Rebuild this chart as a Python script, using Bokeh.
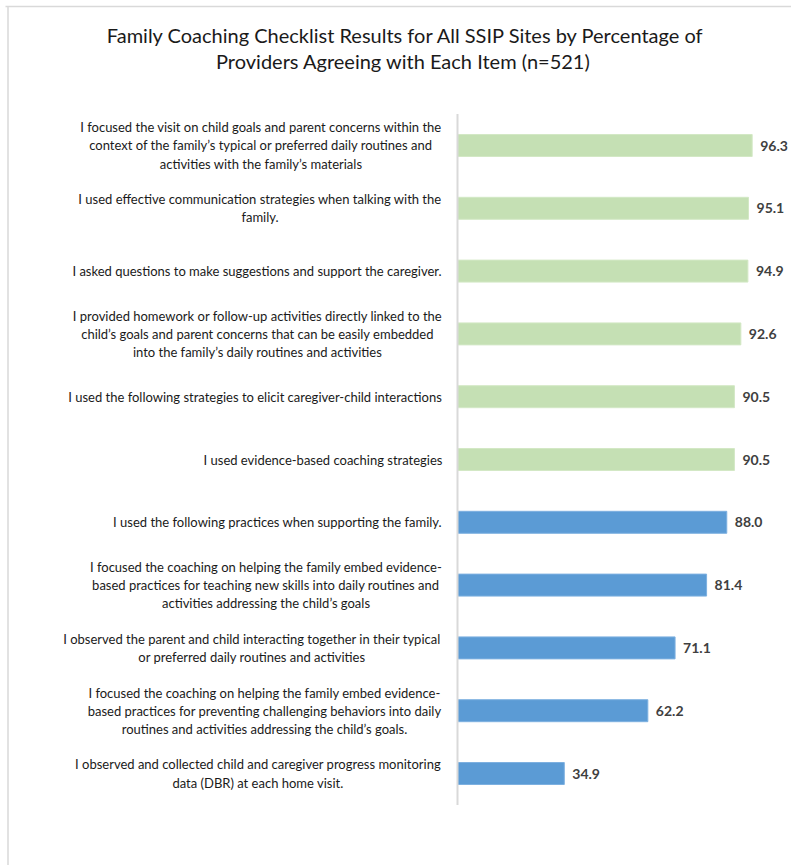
from bokeh.plotting import figure
from bokeh.models import Range1d
from bokeh.core.properties import value
from bokeh.embed import file_html
from bokeh.resources import INLINE

# ---- data (top to bottom) ----
items = [
    "I focused the visit on child goals and parent concerns within the\ncontext of the family\u2019s typical or preferred daily routines and\nactivities with the family\u2019s materials",
    "I used effective communication strategies when talking with the\nfamily.",
    "I asked questions to make suggestions and support the caregiver.",
    "I provided homework or follow-up activities directly linked to the\nchild\u2019s goals and parent concerns that can be easily embedded\ninto the family\u2019s daily routines and activities",
    "I used the following strategies to elicit caregiver-child interactions",
    "I used evidence-based coaching strategies",
    "I used the following practices when supporting the family.",
    "I focused the coaching on helping the family embed evidence-\nbased practices for teaching new skills into daily routines and\nactivities addressing the child\u2019s goals",
    "I observed the parent and child interacting together in their typical\nor preferred daily routines and activities",
    "I focused the coaching on helping the family embed evidence-\nbased practices for preventing challenging behaviors into daily\nroutines and activities addressing the child\u2019s goals.",
    "I observed and collected child and caregiver progress monitoring\ndata (DBR) at each home visit.",
]
percents = [96.3, 95.1, 94.9, 92.6, 90.5, 90.5, 88.0, 81.4, 71.1, 62.2, 34.9]
title_lines = [
    "Family Coaching Checklist Results for All SSIP Sites by Percentage of",
    "Providers Agreeing with  Each Item (n=521)",
]

# ---- layout (pixels) ----
W, H = 791, 865
X0_PX, PX_PER_UNIT = 457, 3.06
Y0_PX, ROW_PX = 145, 62.8
LABEL_RIGHT_PX = 442
# approximate width (px) of each wrapped label block, for centring its lines
label_block_w = [363, 365, 371, 370, 375, 239, 330, 353, 381, 356, 369]


def dx(px):
    return (px - X0_PX) / PX_PER_UNIT


def dy(py):
    return (py - Y0_PX) / ROW_PX


GREEN, BLUE = "#C5E0B4", "#5B9BD5"
GREEN_EDGE, BLUE_EDGE = "#d3e8c5", "#7db0e0"

idx = list(range(len(percents)))
fills = [GREEN if v >= 90 else BLUE for v in percents]
edges = [GREEN_EDGE if v >= 90 else BLUE_EDGE for v in percents]

p = figure(width=W, height=H, output_backend="svg", toolbar_location=None,
           x_range=Range1d(dx(0), dx(W)), y_range=Range1d(dy(H), dy(0)),
           x_axis_location=None, y_axis_location=None,
           min_border=0, min_border_left=0, min_border_right=0,
           min_border_top=0, min_border_bottom=0)
p.grid.visible = False
p.outline_line_color = None
p.background_fill_color = "white"

# outer chart border
p.segment(x0=[dx(5)], y0=[dy(6)], x1=[dx(W)], y1=[dy(6)], line_color="#d9d9d9", line_width=1.5)
p.segment(x0=[dx(7.5)], y0=[dy(6)], x1=[dx(7.5)], y1=[dy(H)], line_color="#d9d9d9", line_width=1.5)

# bars
p.hbar(y=idx, left=0, right=percents, height=0.35, fill_color=fills,
       line_color=edges, line_width=1)

# vertical category axis line
p.segment(x0=[0], y0=[-0.5], x1=[0], y1=[len(percents) - 0.5],
          line_color="#d9d9d9", line_width=2)

# value labels
p.text(x=percents, y=idx, text=["%.1f" % v for v in percents], x_offset=8,
       text_align="left", text_baseline="middle", text_font=value("Lato"),
       text_font_style="bold", text_font_size="14px", text_color="#404040")

# category labels (lines centred within a right-aligned block)
label_x = [dx(LABEL_RIGHT_PX - w / 2.0) for w in label_block_w]
p.text(x=label_x, y=idx, text=items, text_align="center",
       text_baseline="middle", text_font=value("Lato"), text_font_size="13px",
       text_line_height=1.13, text_color="#1a1a1a")

# title
p.text(x=[dx(405.5)] * 2, y=[dy(34), dy(60)], text=title_lines, text_align="center",
       text_baseline="middle", text_font=value("Lato"), text_font_size="20px",
       text_color="#1a1a1a")

open("out.html", "w").write(file_html(p, INLINE))
